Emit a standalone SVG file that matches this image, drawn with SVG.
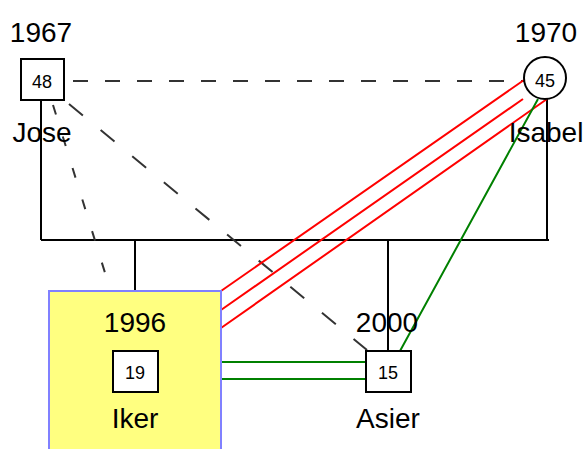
<svg xmlns="http://www.w3.org/2000/svg" width="585" height="449" viewBox="0 0 585 449">
<style>
text{font-family:"Liberation Sans",Arial,sans-serif;fill:#000;text-anchor:middle}
.big{font-size:28px}
.small{font-size:18px}
.box{fill:#fff;stroke:#000;stroke-width:2}
.fam{stroke:#000;stroke-width:2;fill:none}
.red{stroke:#ff0000;stroke-width:2;fill:none}
.green{stroke:#008000;stroke-width:2;fill:none}
.dash{stroke:#333;stroke-width:2;fill:none}
</style>
<rect width="585" height="449" fill="#fff"/>
<g id="connectors">
<path class="fam" d="M41,100 V240 M547,99 V240 M41,240 H549 M135,240 V291 M388,240 V351"/>
<path class="dash" d="M73,81 H524" stroke-dasharray="15 17"/>
<path class="dash" d="M53,105 L106,276" stroke-dasharray="10 23"/>
<path class="dash" d="M69,104 L367,350" stroke-dasharray="18 23"/>
<path class="red" d="M221,291 L524,80 M221,310 L523,99 M221,328 L547,99"/>
<path class="green" d="M538,99 L400,351 M221,362 H366 M221,379 H366"/>
</g>
<g id="jose">
<text class="big" x="41" y="42">1967</text>
<rect class="box" x="21" y="59" width="43" height="41"/>
<text class="small" x="42" y="88">48</text>
<text class="big" x="42" y="142">Jose</text>
</g>
<g id="isabel">
<text class="big" x="546" y="42">1970</text>
<circle cx="545" cy="78" r="21" fill="#fff" stroke="#000" stroke-width="2"/>
<text class="small" x="545" y="87">45</text>
<text class="big" x="546" y="142">Isabel</text>
</g>
<g id="iker">
<rect x="49" y="291" width="172" height="170" fill="#ffff80" stroke="#8080ff" stroke-width="2"/>
<text class="big" x="135" y="332">1996</text>
<rect class="box" x="113" y="351" width="45" height="41"/>
<text class="small" x="135" y="379">19</text>
<text class="big" x="135" y="428">Iker</text>
</g>
<g id="asier">
<text class="big" x="387" y="332">2000</text>
<rect class="box" x="366" y="351" width="45" height="41"/>
<text class="small" x="388" y="379">15</text>
<text class="big" x="388" y="428">Asier</text>
</g>
</svg>
